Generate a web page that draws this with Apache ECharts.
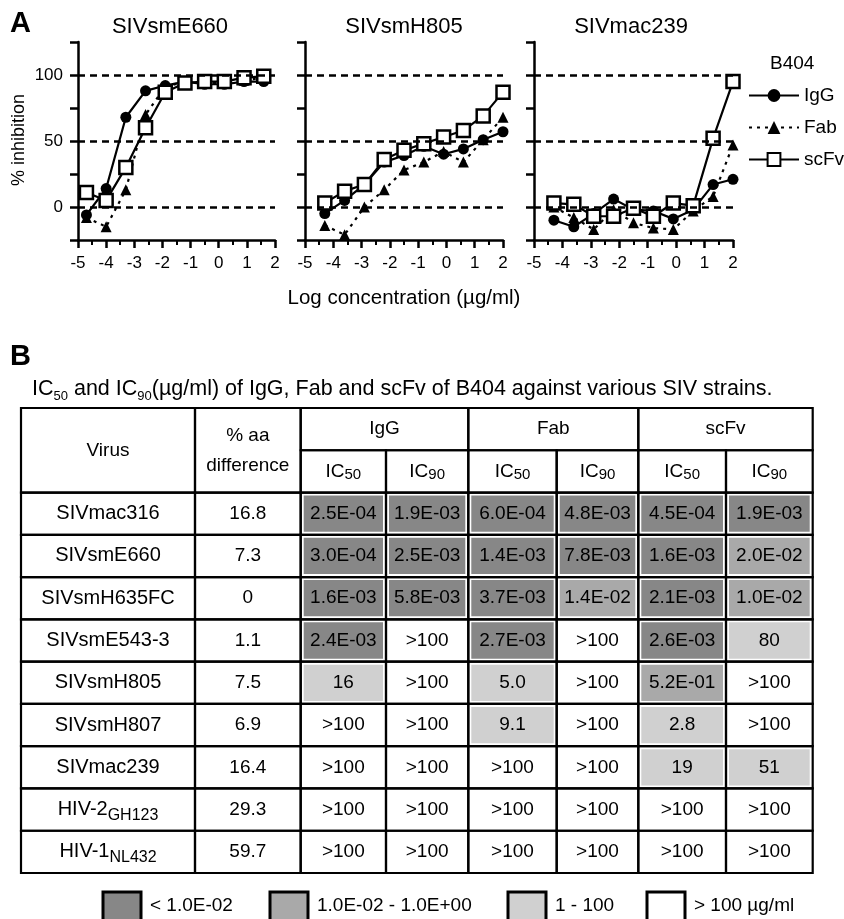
<!DOCTYPE html>
<html>
<head>
<meta charset="utf-8">
<title>B404 neutralization</title>
<script src="https://cdn.jsdelivr.net/npm/echarts@6.0.0/dist/echarts.min.js"></script>
<style>
    html, body { margin: 0; padding: 0; background: #fff; }
    #main { width: 844px; height: 919px; }
</style>
</head>
<body>
<div id="main"></div>
<script>
var FONT = '"Liberation Sans", Arial, Helvetica, sans-serif';

// 面板A：抑制率曲线 (log µg/ml)
var panelTitles = ['SIVsmE660', 'SIVsmH805', 'SIVmac239'];
var xE660 = [-4.7, -4.0, -3.3, -2.6, -1.9, -1.2, -0.5, 0.2, 0.9, 1.6];
var xH805 = [-4.3, -3.6, -2.9, -2.2, -1.5, -0.8, -0.1, 0.6, 1.3, 2.0];
var xMac239 = [-4.3, -3.6, -2.9, -2.2, -1.5, -0.8, -0.1, 0.6, 1.3, 2.0];

var e660IgG = [-6, 14, 68, 88, 92, 95, 93, 93, 95, 95];
var e660Fab = [-8, -15, 13, 70, 91, 95, 94, 94, 96, 98];
var e660ScFv = [11, 5, 30, 60, 87, 94, 95, 95, 98, 99];

var h805IgG = [-5, 5, 17, 34, 39, 46, 40, 44, 51, 57];
var h805Fab = [-14, -21, 0, 13, 28, 34, 42, 34, 51, 68];
var h805ScFv = [3, 12, 17, 36, 43, 48, 53, 58, 69, 87];

var mac239IgG = [-10, -15, -5, 6, -2, -3, -9, -2, 17, 21];
var mac239Fab = [0, -8, -17, -2, -12, -16, -17, -3, 8, 47];
var mac239ScFv = [3, 2, -7, -7, -1, -7, 3, 1, 52, 95];

var yTickLabels = [0, 50, 100];

// 面板B：IC50 / IC90 表格
var viruses = ['SIVmac316', 'SIVsmE660', 'SIVsmH635FC', 'SIVsmE543-3', 'SIVsmH805',
    'SIVsmH807', 'SIVmac239', 'HIV-2{s|GH123}', 'HIV-1{s|NL432}'];
var aaDiff = ['16.8', '7.3', '0', '1.1', '7.5', '6.9', '16.4', '29.3', '59.7'];
var iggIC50 = ['2.5E-04', '3.0E-04', '1.6E-03', '2.4E-03', '16', '>100', '>100', '>100', '>100'];
var iggIC90 = ['1.9E-03', '2.5E-03', '5.8E-03', '>100', '>100', '>100', '>100', '>100', '>100'];
var fabIC50 = ['6.0E-04', '1.4E-03', '3.7E-03', '2.7E-03', '5.0', '9.1', '>100', '>100', '>100'];
var fabIC90 = ['4.8E-03', '7.8E-03', '1.4E-02', '>100', '>100', '>100', '>100', '>100', '>100'];
var scfvIC50 = ['4.5E-04', '1.6E-03', '2.1E-03', '2.6E-03', '5.2E-01', '2.8', '19', '>100', '>100'];
var scfvIC90 = ['1.9E-03', '2.0E-02', '1.0E-02', '80', '>100', '>100', '51', '>100', '>100'];
var groupNames = ['IgG', 'Fab', 'scFv'];
var keyLabels = ['< 1.0E-02', '1.0E-02 - 1.0E+00', '1 - 100', '> 100 µg/ml'];

// 颜色 / 布局
var shadeColors = ['#878787', '#a9a9a9', '#d0d0d0', '#ffffff'];
var colEdge = [0, 174, 279.7, 365, 447.3, 535.7, 617.3, 705, 791.7];
var keyBoxX = [103, 270, 508, 647];

function shadeIndex(v) {
    if (v.charAt(0) == '>') return 3;
    var n = parseFloat(v);
    if (n < 0.01) return 0;
    if (n < 1) return 1;
    return 2;
}

function pairs(xs, ys) {
    var out = [];
    for (var i = 0; i < xs.length; i++) out.push([xs[i], ys[i]]);
    return out;
}

// 表格单元
var cells = [];
cells.push({c0: 0, c1: 1, r0: 0, r1: 2, text: 'Virus'});
cells.push({c0: 1, c1: 2, r0: 0, r1: 2, text: '% aa\ndifference', lh: 30});
for (var g = 0; g < 3; g++) {
    cells.push({c0: 2 + g * 2, c1: 4 + g * 2, r0: 0, r1: 1, text: groupNames[g]});
    cells.push({c0: 2 + g * 2, c1: 3 + g * 2, r0: 1, r1: 2, text: 'IC{s|50}', lh: 22});
    cells.push({c0: 3 + g * 2, c1: 4 + g * 2, r0: 1, r1: 2, text: 'IC{s|90}', lh: 22});
}
var icCols = [iggIC50, iggIC90, fabIC50, fabIC90, scfvIC50, scfvIC90];
for (var r = 0; r < viruses.length; r++) {
    cells.push({c0: 0, c1: 1, r0: r + 2, r1: r + 3, text: viruses[r], lh: 28, sub: true});
    cells.push({c0: 1, c1: 2, r0: r + 2, r1: r + 3, text: aaDiff[r]});
    for (var k = 0; k < icCols.length; k++) {
        var v = icCols[k][r];
        var si = shadeIndex(v);
        cells.push({c0: 2 + k, c1: 3 + k, r0: r + 2, r1: r + 3, text: v,
            fill: si < 3 ? shadeColors[si] : null});
    }
}

function renderCell(params, api) {
    var c = cells[params.dataIndex];
    var p0 = api.coord([colEdge[c.c0], c.r0]);
    var p1 = api.coord([colEdge[c.c1], c.r1]);
    var x = p0[0], y = p0[1], w = p1[0] - p0[0], h = p1[1] - p0[1];
    var kids = [];
    if (c.fill) {
        kids.push({type: 'rect', shape: {x: x + 3, y: y + 3, width: w - 6, height: h - 6},
            style: {fill: c.fill}});
    }
    kids.push({type: 'rect', shape: {x: x, y: y, width: w, height: h},
        style: {fill: 'transparent', stroke: '#000', lineWidth: 2.2}});
    var rich = c.sub
        ? {s: {fontSize: 16, fontFamily: FONT, fill: '#000', verticalAlign: 'bottom', lineHeight: 14}}
        : {s: {fontSize: 15, fontFamily: FONT, fill: '#000', verticalAlign: 'bottom', lineHeight: 18}};
    kids.push({type: 'text', style: {
        text: c.text, x: x + w / 2, y: y + h / 2, align: 'center', verticalAlign: 'middle',
        fontSize: c.sub ? 20 : 19, fontFamily: FONT, fill: '#000', lineHeight: c.lh || 22, rich: rich
    }});
    return {type: 'group', children: kids};
}

function xAx(i) {
    return {
        type: 'value', gridIndex: i, min: -5, max: 2, interval: 1,
        axisLine: {onZero: false, lineStyle: {color: '#000', width: 2.5}},
        axisTick: {length: 8, lineStyle: {color: '#000', width: 2.5}},
        minorTick: {show: true, splitNumber: 2, length: 5, lineStyle: {color: '#000', width: 2}},
        axisLabel: {color: '#000', fontSize: 17, fontFamily: FONT, margin: 15},
        splitLine: {show: false}, minorSplitLine: {show: false}
    };
}
function yAx(i) {
    return {
        type: 'value', gridIndex: i, min: -25, max: 125, interval: 25,
        axisLine: {show: true, onZero: false, lineStyle: {color: '#000', width: 2.5}},
        axisTick: {show: true, length: 8, lineStyle: {color: '#000', width: 2.5}},
        axisLabel: {show: i == 0, color: '#000', fontSize: 17, fontFamily: FONT, margin: 15,
            formatter: function (val) { return yTickLabels.indexOf(val) >= 0 ? String(val) : ''; }},
        splitLine: {show: false}
    };
}

var dashLines = {
    silent: true, symbol: 'none', animation: false,
    label: {show: false},
    lineStyle: {color: '#000', type: [7, 5], width: 2.5},
    data: [{yAxis: 0}, {yAxis: 50}, {yAxis: 100}]
};

function panelSeries(i, xs, igg, fab, scfv) {
    return [{
        name: 'IgG', type: 'line', xAxisIndex: i, yAxisIndex: i, data: pairs(xs, igg),
        symbol: 'circle', symbolSize: 11, clip: false,
        itemStyle: {color: '#000'}, lineStyle: {color: '#000', width: 2.2},
        markLine: dashLines
    }, {
        name: 'Fab', type: 'line', xAxisIndex: i, yAxisIndex: i, data: pairs(xs, fab),
        symbol: 'triangle', symbolSize: 11, clip: false,
        itemStyle: {color: '#000'}, lineStyle: {color: '#000', width: 2.2, type: [3, 5]}
    }, {
        name: 'scFv', type: 'line', xAxisIndex: i, yAxisIndex: i, data: pairs(xs, scfv),
        symbol: 'rect', symbolSize: 13, clip: false,
        itemStyle: {color: '#fff', borderColor: '#000', borderWidth: 2.5},
        lineStyle: {color: '#000', width: 2.2}
    }];
}

var grids = [
    {left: 78, top: 42, width: 197, height: 198},
    {left: 305, top: 42, width: 198, height: 198},
    {left: 534, top: 42, width: 199, height: 198},
    {left: 21, top: 408, width: 791.7, height: 465}
];
grids.forEach(function (gr) { gr.containLabel = false; gr.outerBoundsMode = 'none'; });

var titles = [
    {text: 'A', left: 10, top: 24},
    {text: 'B', left: 10, top: 357},
    {text: panelTitles[0], left: 170, top: 27, align: 'center', size: 22},
    {text: panelTitles[1], left: 404, top: 27, align: 'center', size: 22},
    {text: panelTitles[2], left: 631, top: 27, align: 'center', size: 22},
    {text: 'B404', left: 770, top: 64, size: 19},
    {text: 'Log concentration (µg/ml)', left: 404, top: 298, align: 'center', size: 20.5},
    {text: 'IC{s|50} and IC{s|90}(µg/ml) of IgG, Fab and scFv of B404 against various SIV strains.',
        left: 32, top: 389, size: 21.5}
].map(function (t) {
    var bold = t.text == 'A' || t.text == 'B';
    return {
        text: t.text, left: t.left, top: t.top, padding: 0,
        textAlign: t.align || 'left', textVerticalAlign: 'middle',
        textStyle: {
            color: '#000', fontFamily: FONT, fontSize: bold ? 29 : t.size,
            fontWeight: bold ? 'bold' : 'normal', lineHeight: 28,
            rich: {s: {fontSize: 13, fontFamily: FONT, color: '#000', verticalAlign: 'bottom', lineHeight: 13}}
        }
    };
});

// 底部颜色说明
var keyGraphics = [{
    type: 'text', x: 19, y: 140, rotation: Math.PI / 2,
    style: {text: '% inhibition', fontSize: 18, fontFamily: FONT, fill: '#000',
        align: 'center', verticalAlign: 'middle'}
}];
for (var i = 0; i < keyLabels.length; i++) {
    keyGraphics.push({
        type: 'rect', shape: {x: keyBoxX[i], y: 892, width: 38, height: 32},
        style: {fill: shadeColors[i], stroke: '#000', lineWidth: 3}
    });
    keyGraphics.push({
        type: 'text', x: keyBoxX[i] + 47, y: 906,
        style: {text: keyLabels[i], fontSize: 19, fontFamily: FONT, fill: '#000',
            align: 'left', verticalAlign: 'middle'}
    });
}

var series = []
    .concat(panelSeries(0, xE660, e660IgG, e660Fab, e660ScFv))
    .concat(panelSeries(1, xH805, h805IgG, h805Fab, h805ScFv))
    .concat(panelSeries(2, xMac239, mac239IgG, mac239Fab, mac239ScFv));
series.push({
    type: 'custom', xAxisIndex: 3, yAxisIndex: 3, renderItem: renderCell, clip: false,
    silent: true,
    data: cells.map(function (c) { return [colEdge[c.c0], c.r0, colEdge[c.c1], c.r1]; })
});

var option = {
    animation: false,
    backgroundColor: '#fff',
    title: titles,
    grid: grids,
    xAxis: [xAx(0), xAx(1), xAx(2),
        {type: 'value', gridIndex: 3, min: 0, max: 791.7, show: false}],
    yAxis: [yAx(0), yAx(1), yAx(2),
        {type: 'value', gridIndex: 3, min: 0, max: 11, inverse: true, show: false}],
    legend: {
        data: groupNames, orient: 'vertical', left: 748, top: 86, padding: 0,
        itemWidth: 50, itemHeight: 16, itemGap: 13, selectedMode: false,
        textStyle: {fontSize: 19, color: '#000', fontFamily: FONT}
    },
    graphic: keyGraphics,
    series: series
};

var myChart = echarts.init(document.getElementById('main'), null, {renderer: 'canvas'});
myChart.setOption(option);
</script>
</body>
</html>
